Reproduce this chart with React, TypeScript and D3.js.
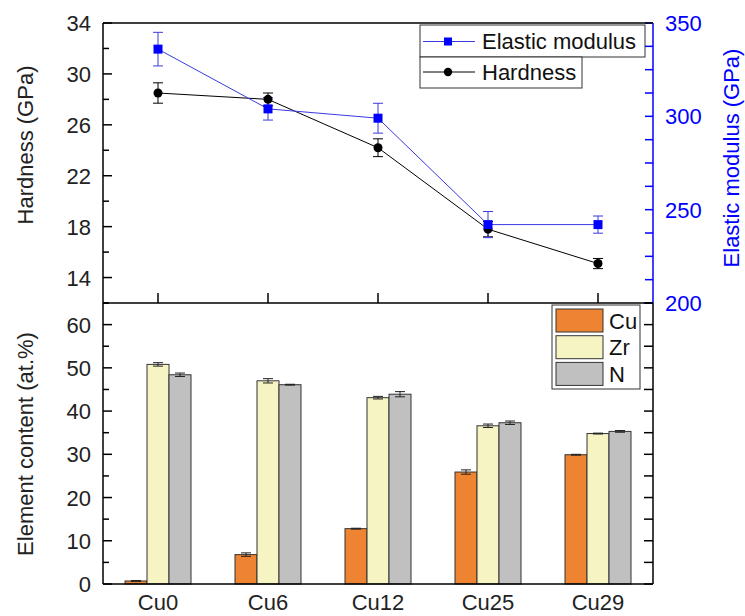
import React from "react";
import * as d3 from "d3";

const categories = ["Cu0", "Cu6", "Cu12", "Cu25", "Cu29"];
const hardness = [28.5, 28.0, 24.2, 17.8, 15.1];
const hardnessErr = [0.8, 0.5, 0.7, 0.6, 0.4];
const modulus = [336, 304, 299, 242, 242];
const modulusErr = [9, 6, 8, 7, 4.6];
const elements = ["Cu", "Zr", "N"];
const cuContent = [0.7, 6.8, 12.8, 25.9, 29.9];
const cuErr = [0.1, 0.4, 0.1, 0.5, 0.1];
const zrContent = [50.8, 47.0, 43.1, 36.6, 34.8];
const zrErr = [0.4, 0.5, 0.3, 0.4, 0.1];
const nContent = [48.4, 46.1, 43.9, 37.3, 35.3];
const nErr = [0.4, 0.1, 0.6, 0.4, 0.2];
const hardTicks = [14, 18, 22, 26, 30, 34];
const modTicks = [200, 250, 300, 350];
const contentTicks = [0, 10, 20, 30, 40, 50, 60];

const FONT = "Liberation Sans, Arial, sans-serif";
const elementColors = ["#EE8431", "#F7F4C3", "#C0C0C0"];

export default function App() {
  const W = 745, H = 616;
  const L = 103, R = 653, T = 23, M = 303, B = 584;
  const x = d3.scaleLinear().domain([-0.5, 4.5]).range([L, R]);
  const yH = d3.scaleLinear().domain([12, 34]).range([M, T]);
  const yE = d3.scaleLinear().domain([200, 350]).range([M, T]);
  const yC = d3.scaleLinear().domain([0, 65]).range([B, M]);
  const idx = categories.map((_, i) => i);
  const lineH = d3.line<number>().x((i) => x(i)).y((i) => yH(hardness[i]));
  const lineE = d3.line<number>().x((i) => x(i)).y((i) => yE(modulus[i]));
  const barW = 22;
  const series = [
    { v: cuContent, e: cuErr },
    { v: zrContent, e: zrErr },
    { v: nContent, e: nErr },
  ];
  const blue = "#0000FF";

  const errBar = (cx: number, y1: number, y2: number, color: string, key: string, cap = 5) => (
    <g key={key} stroke={color} strokeWidth={1}>
      <line x1={cx} x2={cx} y1={y1} y2={y2} />
      <line x1={cx - cap} x2={cx + cap} y1={y1} y2={y1} />
      <line x1={cx - cap} x2={cx + cap} y1={y2} y2={y2} />
    </g>
  );

  const hMinor = d3.range(12, 34.01, 2);
  const eMinor = d3.range(200, 350.01, 12.5);
  const cMinor = d3.range(0, 65.01, 5);

  return (
    <svg width={W} height={H} style={{ position: "absolute", left: 0, top: 0, background: "#fff" }} fontFamily={FONT}>
      <rect x={0} y={0} width={W} height={H} fill="#fff" />
      {/* ===== Top panel ===== */}
      {hMinor.map((v) => (
        <line key={"hm" + v} x1={L} x2={L + (hardTicks.includes(v) ? 9 : 6)} y1={yH(v)} y2={yH(v)} stroke="#000" strokeWidth={1.5} />
      ))}
      {hardTicks.map((v) => (
        <text key={"ht" + v} x={L - 12} y={yH(v) + 8} textAnchor="end" fontSize={22} fill="#222">{v}</text>
      ))}
      {eMinor.map((v) => (
        <line key={"em" + v} x1={R} x2={R - 8} y1={yE(v)} y2={yE(v)} stroke={blue} strokeWidth={1.5} />
      ))}
      {modTicks.map((v) => (
        <text key={"et" + v} x={R + 12} y={yE(v) + 8} textAnchor="start" fontSize={22} fill={blue}>{v}</text>
      ))}
      {idx.map((i) => (
        <line key={"ct" + i} x1={x(i)} x2={x(i)} y1={M} y2={M - 10} stroke="#000" strokeWidth={1.5} />
      ))}
      <path d={lineH(idx) || ""} fill="none" stroke="#000" strokeWidth={1} />
      <path d={lineE(idx) || ""} fill="none" stroke="#3a3ae0" strokeWidth={1} />
      {idx.map((i) => errBar(x(i), yH(hardness[i] + hardnessErr[i]), yH(hardness[i] - hardnessErr[i]), "#000", "he" + i))}
      {idx.map((i) => errBar(x(i), yE(modulus[i] + modulusErr[i]), yE(modulus[i] - modulusErr[i]), "#3a3ae0", "ee" + i))}
      {idx.map((i) => (
        <circle key={"hc" + i} cx={x(i)} cy={yH(hardness[i])} r={4.5} fill="#000" />
      ))}
      {idx.map((i) => (
        <rect key={"es" + i} x={x(i) - 4.5} y={yE(modulus[i]) - 4.5} width={9} height={9} fill={blue} />
      ))}
      <line x1={L} x2={R} y1={T} y2={T} stroke="#000" strokeWidth={1.5} />
      <line x1={L} x2={L} y1={T} y2={M} stroke="#000" strokeWidth={1.5} />
      <line x1={R} x2={R} y1={T} y2={M} stroke={blue} strokeWidth={1.5} />
      {/* top legend */}
      <rect x={420} y={25} width={225} height={32} fill="#fff" stroke="#333" strokeWidth={1} />
      <rect x={420} y={57} width={162} height={31} fill="#fff" stroke="#333" strokeWidth={1} />
      <line x1={423} x2={475} y1={41.5} y2={41.5} stroke="#3a3ae0" strokeWidth={1} />
      <rect x={444} y={37.5} width={8} height={8} fill={blue} />
      <text x={482} y={49} fontSize={22} fill="#111">Elastic modulus</text>
      <line x1={423} x2={475} y1={72} y2={72} stroke="#000" strokeWidth={1} />
      <circle cx={448} cy={72} r={4.2} fill="#000" />
      <text x={482} y={79.5} fontSize={22} fill="#111">Hardness</text>
      {/* axis titles */}
      <text transform={`translate(33,145) rotate(-90)`} textAnchor="middle" fontSize={22} fill="#222">Hardness (GPa)</text>
      <text transform={`translate(739,158) rotate(-90)`} textAnchor="middle" fontSize={22} fill={blue}>Elastic modulus (GPa)</text>

      {/* ===== Bottom panel ===== */}
      {idx.map((i) =>
        series.map((s, j) => {
          const bx = x(i) - 1.5 * barW + j * barW;
          return (
            <g key={"b" + i + "-" + j}>
              <rect x={bx} y={yC(s.v[i])} width={barW} height={B - yC(s.v[i])} fill={elementColors[j]} stroke="#333" strokeWidth={1} />
              {errBar(bx + barW / 2, yC(s.v[i] + s.e[i]), yC(s.v[i] - s.e[i]), "#222", "be" + i + j, 5)}
            </g>
          );
        })
      )}
      {cMinor.map((v) => (
        <g key={"cm" + v}>
          <line x1={L} x2={L + (v % 10 === 0 ? 9 : 6)} y1={yC(v)} y2={yC(v)} stroke="#000" strokeWidth={1.5} />
          <line x1={R} x2={R - 9} y1={yC(v)} y2={yC(v)} stroke="#000" strokeWidth={1.5} />
        </g>
      ))}
      {contentTicks.map((v) => (
        <text key={"cl" + v} x={L - 12} y={yC(v) + 8} textAnchor="end" fontSize={22} fill="#222">{v}</text>
      ))}
      {categories.map((c, i) => (
        <text key={"xl" + i} x={x(i)} y={610} textAnchor="middle" fontSize={22} fill="#222">{c}</text>
      ))}
      <line x1={L} x2={R} y1={M} y2={M} stroke="#000" strokeWidth={1.5} />
      <line x1={L} x2={R} y1={B} y2={B} stroke="#000" strokeWidth={1.5} />
      <line x1={L} x2={L} y1={M} y2={B} stroke="#000" strokeWidth={1.5} />
      <line x1={R} x2={R} y1={M} y2={B} stroke="#000" strokeWidth={1.5} />
      <text transform={`translate(33,444) rotate(-90)`} textAnchor="middle" fontSize={22} fill="#222">Element content (at.%)</text>
      {/* bottom legend */}
      <rect x={552} y={305} width={88} height={84} fill="#fff" stroke="#333" strokeWidth={1} />
      {elements.map((el, j) => (
        <g key={"lg" + el}>
          <rect x={556} y={309 + j * 26.7} width={47} height={23} fill={elementColors[j]} stroke="#333" strokeWidth={1} />
          <text x={609} y={328.5 + j * 26.7} fontSize={22} fill="#111">{el}</text>
        </g>
      ))}
    </svg>
  );
}
